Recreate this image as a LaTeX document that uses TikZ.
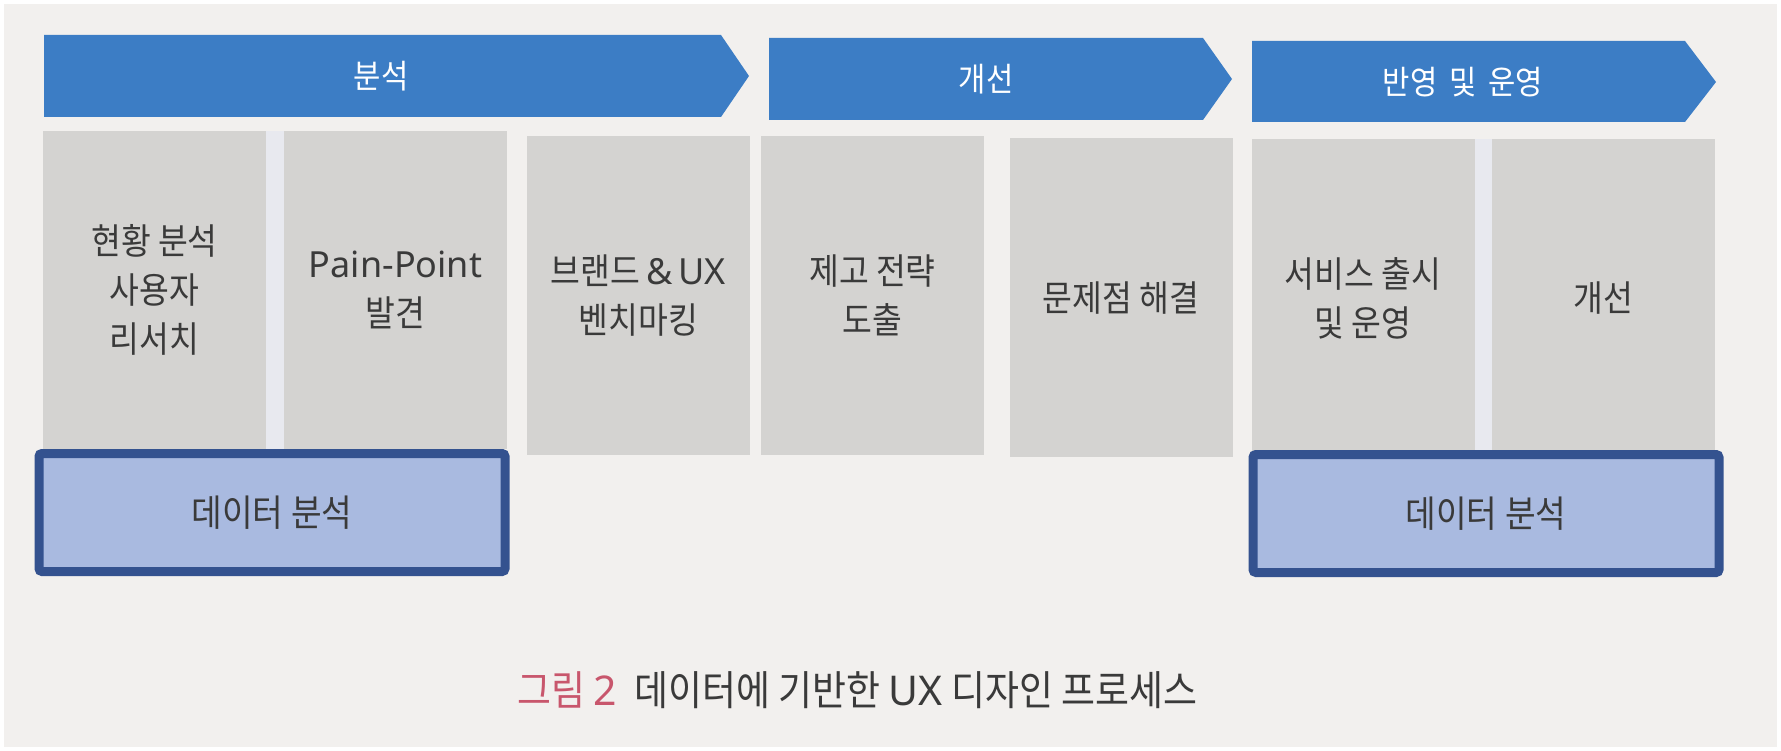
\documentclass[tikz,border=0pt]{standalone}
\usepackage{fontspec}
\newfontfamily\kr[FakeStretch=0.9]{Noto Sans CJK KR}
\newfontfamily\lat{Noto Sans}
\definecolor{bgc}{HTML}{F2F0EE}
\definecolor{arrowblue}{HTML}{3C7DC5}
\definecolor{graybox}{HTML}{D4D3D1}
\definecolor{stripc}{HTML}{E8E9EF}
\definecolor{datafill}{HTML}{A9BAE0}
\definecolor{databorder}{HTML}{34528F}
\definecolor{txt}{HTML}{3A3A3A}
\definecolor{capred}{HTML}{C8566C}
\tikzset{
  phase/.style={fill=arrowblue, draw=none},
  phaselabel/.style={text=white, font=\kr\fontsize{33}{38}\selectfont, inner sep=0},
  gbox/.style={fill=graybox, draw=none, anchor=north, minimum width=223, inner sep=0, align=center, text=txt, font=\kr\fontsize{36}{49}\selectfont},
  dbox/.style={fill=datafill, draw=databorder, line width=9pt, rounded corners=3pt, minimum width=466, minimum height=118, inner sep=0, text=txt, font=\kr\fontsize{37}{42}\selectfont},
}
\begin{document}
\begin{tikzpicture}[x=1pt,y=-1pt]
\fill[white] (0,0) rectangle (1781,751);
\fill[bgc] (4,4) rectangle (1777,747);
\useasboundingbox (0,0) rectangle (1781,751);

% phase arrows
\fill[phase] (44,35) -- (721,35) -- (749,76) -- (721,117) -- (44,117) -- cycle;
\node[phaselabel] (a1) at (381,76) {분석};
\fill[phase] (769,38) -- (1203,38) -- (1232,79) -- (1203,120) -- (769,120) -- cycle;
\node[phaselabel] (a2) at (986,79) {개선};
\fill[phase] (1252,41) -- (1685,41) -- (1716,82) -- (1685,122) -- (1252,122) -- cycle;
\node[phaselabel] (a3) at (1463,82) {반영\hspace{12pt}및\hspace{12pt}운영};

% gaps
\fill[stripc] (266,131) rectangle (284,449);
\fill[stripc] (1474,139) rectangle (1492,457);

% gray boxes
\node[gbox, minimum height=318] (b1) at (154.5,131) {현황 분석\\사용자\\리서치};
\node[gbox, minimum height=318] (b2) at (395.5,131) {{\lat Pain-Point}\\발견};
\node[gbox, minimum height=319] (b3) at (638.5,136) {브랜드{\lat\,\&\,UX}\\벤치마킹};
\node[gbox, minimum height=319] (b4) at (872.5,136) {제고 전략\\도출};
\node[gbox, minimum height=319] (b5) at (1121,138) {문제점 해결};
\node[gbox, minimum height=318] (b6) at (1363,139) {서비스 출시\\및 운영};
\node[gbox, minimum height=318] (b7) at (1603.5,139) {개선};

% data analysis boxes
\node[dbox] (d1) at (272,512.5) {데이터 분석};
\node[dbox] (d2) at (1486,513.5) {데이터 분석};

% caption
\node[anchor=west, inner sep=0, font=\kr\fontsize{41}{45}\selectfont, text=txt] (cap) at (517,690)
  {\textcolor{capred}{그림 {\lat 2}}\hspace{18pt}데이터에 기반한 {\lat UX} 디자인 프로세스};
\end{tikzpicture}
\end{document}
